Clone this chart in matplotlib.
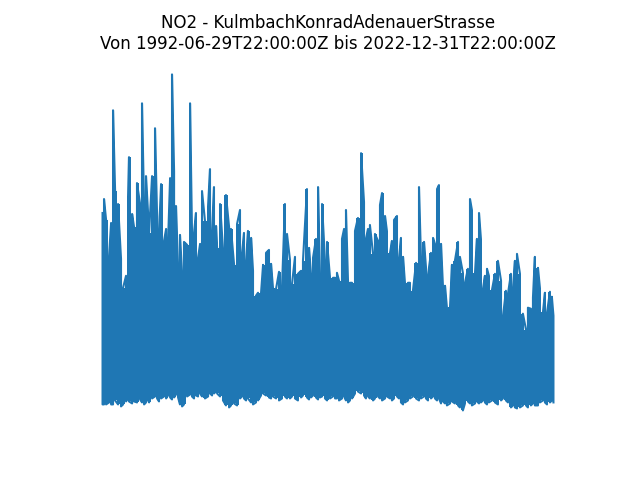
import numpy as np
import matplotlib
matplotlib.use("Agg")
import matplotlib.pyplot as plt

station = "KulmbachKonradAdenauerStrasse"
start = "1992-06-29T22:00:00Z"
end = "2022-12-31T22:00:00Z"

# time in decimal years
years = [1992.49, 1992.59, 1992.73, 1992.93, 1993.07, 1993.20, 1993.34, 1993.54, 1993.74, 1993.88,
         1994.08, 1994.22, 1994.28, 1994.49, 1994.62, 1994.82, 1995.03, 1995.16, 1995.30, 1995.43,
         1995.57, 1995.64, 1995.84, 1996.04, 1996.18, 1996.31, 1996.45, 1996.65, 1996.79, 1996.92,
         1997.06, 1997.19, 1997.33, 1997.46, 1997.60, 1997.73, 1997.87, 1998.00, 1998.21, 1998.41,
         1998.54, 1998.68, 1998.81, 1998.95, 1999.09, 1999.22, 1999.42, 1999.63, 1999.76, 1999.90,
         2000.03, 2000.17, 2000.24, 2000.44, 2000.64, 2000.84, 2001.05, 2001.18, 2001.39, 2001.59,
         2001.79, 2001.93, 2002.06, 2002.20, 2002.33, 2002.54, 2002.67, 2002.87, 2003.01, 2003.21,
         2003.35, 2003.55, 2003.75, 2003.89, 2004.02, 2004.23, 2004.43, 2004.63, 2004.83, 2004.97,
         2005.17, 2005.31, 2005.51, 2005.71, 2005.92, 2006.05, 2006.32, 2006.46, 2006.59, 2006.73,
         2006.93, 2007.07, 2007.20, 2007.34, 2007.54, 2007.68, 2007.88, 2008.08, 2008.22, 2008.35,
         2008.49, 2008.69, 2008.83, 2008.96, 2009.10, 2009.23, 2009.37, 2009.57, 2009.77, 2009.98,
         2010.18, 2010.31, 2010.45, 2010.58, 2010.79, 2010.92, 2011.13, 2011.26, 2011.40, 2011.60,
         2011.73, 2011.94, 2012.07, 2012.21, 2012.41, 2012.55, 2012.68, 2012.82, 2012.95, 2013.15,
         2013.29, 2013.49, 2013.70, 2013.90, 2014.03, 2014.24, 2014.37, 2014.51, 2014.71, 2014.85,
         2014.98, 2015.12, 2015.25, 2015.39, 2015.52, 2015.66, 2015.79, 2016.00, 2016.13, 2016.33,
         2016.54, 2016.67, 2016.87, 2017.01, 2017.21, 2017.35, 2017.48, 2017.69, 2017.82, 2017.96,
         2018.09, 2018.23, 2018.36, 2018.50, 2018.63, 2018.84, 2019.04, 2019.24, 2019.45, 2019.58,
         2019.78, 2019.92, 2020.12, 2020.26, 2020.39, 2020.53, 2020.73, 2020.93, 2021.14, 2021.27,
         2021.47, 2021.61, 2021.74, 2021.95, 2022.08, 2022.29, 2022.42, 2022.56, 2022.76, 2022.89,
         2022.997]

# peak NO2 values per period
highs = [99.5, 106.5, 96, 78, 94.5, 151, 110.5, 104, 76.5, 62,
         68, 108, 127.5, 99, 92.5, 114.5, 104, 154.5, 103, 118,
         99.5, 89.5, 118, 142, 98, 89.5, 114, 85.5, 91.5, 84.5,
         117, 169, 120.5, 103, 72, 88.5, 69, 85, 83.5, 154.5,
         91.5, 89.5, 99.5, 77, 84, 110.5, 95.5, 103, 121.5, 90.5,
         112.5, 93, 82, 104, 81.5, 108.5, 92.5, 91.5, 73.5, 94,
         101, 79.5, 89.5, 75.5, 90.5, 87, 70.5, 58, 59.5, 59,
         73.5, 79.5, 81, 74, 62, 61.5, 70, 62, 104, 89,
         76, 64, 77.5, 69, 70.5, 75.5, 111.5, 82, 69, 77,
         86.5, 112.5, 69, 104, 75.5, 85, 67, 67, 67, 69.5,
         65.5, 86.5, 91.5, 101, 64.5, 64.5, 64.5, 90.5, 97, 129.5,
         105, 86.5, 91.5, 93.5, 79, 89, 85.5, 103.5, 109.5, 98,
         90.5, 79.5, 85.5, 96, 98, 77, 87, 77.5, 64.5, 64.5,
         64.5, 60.5, 74.5, 112.5, 78, 85, 72.5, 68.5, 79.5, 87,
         84, 111.5, 113.5, 84, 63, 63, 52, 52.5, 73.5, 75.5,
         85, 77.5, 69.5, 64.5, 71.5, 106.5, 101, 69.5, 86.5, 99.5,
         86.5, 61.5, 68, 71.5, 68, 61, 69, 75.5, 65.5, 47.5,
         60.5, 59, 69, 62, 75.5, 79, 69, 49, 41, 52,
         51.5, 57, 77.5, 72, 62, 50, 59.5, 49.5, 60, 57.5,
         48]

# lowest values per period
lows = [3.5, 3.5, 3.5, 4.5, 3.5, 3.5, 5.5, 3.5, 2.5, 3.5,
        5, 6.5, 5, 4, 5, 4.5, 6, 4.5, 3.5, 4.5,
        5.5, 4.5, 6.5, 7.5, 6.5, 5, 6.5, 7.5, 6.5, 8,
        7, 6, 7, 8.5, 7, 3.5, 2.5, 3.5, 7.5, 8.5,
        7.5, 6.5, 8, 7.5, 9, 7.5, 6.5, 7.5, 9, 8,
        9, 10, 9, 7.5, 5.5, 3, 2, 3, 4, 3,
        6.5, 7.5, 6.5, 5.5, 6.5, 4.5, 3.5, 4.5, 5.5, 8,
        9, 8, 7, 6.5, 7.5, 6.5, 5.5, 6.5, 7.5, 6.5,
        6.5, 7.5, 6.5, 5.5, 7, 8, 7, 6, 7, 8,
        7, 6, 7, 7.5, 6.5, 5.5, 6.5, 7.5, 6.5, 6.5,
        5.5, 6.5, 7.5, 5.5, 4.5, 5.5, 6.5, 9, 10, 9,
        8, 6.5, 7.5, 6.5, 5.5, 6.5, 7.5, 6.5, 5.5, 6.5,
        7.5, 6.5, 5.5, 6.5, 7.5, 6.5, 4.5, 3.5, 4.5, 5.5,
        6.5, 7.5, 6.5, 5.5, 6.5, 7.5, 6.5, 5.5, 6.5, 7.5,
        6.5, 5.5, 6.5, 4, 5, 4, 3, 4, 5, 4,
        3, 2, 0.5, 4, 5, 4, 3, 4, 5, 4,
        4.5, 5.5, 4.5, 3.5, 4.5, 5.5, 4.5, 3.5, 5.5, 6.5,
        5.5, 4.5, 2, 3, 2, 1.5, 2, 3, 3, 2,
        3, 4, 3, 3, 4.5, 5.5, 4.5, 3.5, 4.5, 5.5,
        4.5]

t = np.array(years)
hi = np.array(highs)
lo = np.array(lows)

# zigzag between peak and low at each time step
zig_t = np.repeat(t, 2)
zig_v = np.empty(2 * len(t))
zig_v[0::4] = hi[0::2]
zig_v[1::4] = lo[0::2]
zig_v[2::4] = lo[1::2]
zig_v[3::4] = hi[1::2]

fig, ax = plt.subplots(figsize=(6.4, 4.8), dpi=100)
ax.fill_between(t, lo, hi, step="mid", color="C0", linewidth=0)
ax.plot(zig_t, zig_v, color="C0")
ax.set_title("NO2 - " + station + "\nVon " + start + " bis " + end)
ax.axis("off")
plt.savefig("out.png")
